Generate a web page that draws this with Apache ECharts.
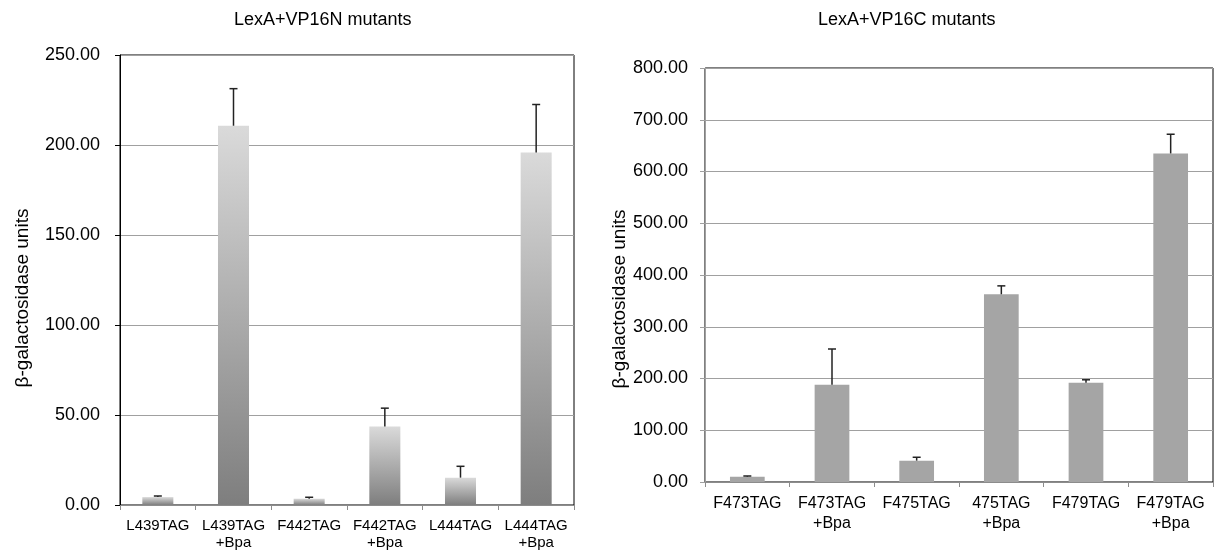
<!DOCTYPE html>
<html>
<head>
<meta charset="utf-8">
<script src="https://cdn.jsdelivr.net/npm/echarts@6/dist/echarts.min.js"></script>
<style>
html,body{margin:0;padding:0;background:#fff;}
#chart{width:1217px;height:552px;}
</style>
</head>
<body>
<div id="chart"></div>
<script>
// ---- data ----
const leftTitle = 'LexA+VP16N mutants';
const rightTitle = 'LexA+VP16C mutants';
const yName = 'β-galactosidase units';
const leftCategories = ['L439TAG', 'L439TAG\n+Bpa', 'F442TAG', 'F442TAG\n+Bpa', 'L444TAG', 'L444TAG\n+Bpa'];
const leftValues = [4.4, 210.7, 3.5, 43.6, 15.2, 195.8];
const leftErrTop = [5.0, 231.3, 4.3, 53.8, 21.5, 222.5];
const rightCategories = ['F473TAG', 'F473TAG\n+Bpa', 'F475TAG', '475TAG\n+Bpa', 'F479TAG', 'F479TAG\n+Bpa'];
const rightValues = [10.3, 188.0, 41.3, 362.8, 191.7, 634.9];
const rightErrTop = [11.6, 257.0, 47.8, 379.0, 197.5, 672.0];
const leftAxis = {min: 0, max: 250, interval: 50};
const rightAxis = {min: 0, max: 800, interval: 100};

const FONT = '"Liberation Sans", Arial, Helvetica, sans-serif';

function errData(vals, tops) {
  return vals.map((v, i) => [i, v, tops[i]]);
}
function errRender(params, api) {
  const i = api.value(0);
  const p0 = api.coord([i, api.value(1)]);
  const p1 = api.coord([i, api.value(2)]);
  const half = 4;
  const style = {stroke: '#222', lineWidth: 1.5};
  return {
    type: 'group',
    children: [
      {type: 'line', shape: {x1: p0[0], y1: p0[1], x2: p1[0], y2: p1[1]}, style: style},
      {type: 'line', shape: {x1: p1[0] - half, y1: p1[1], x2: p1[0] + half, y2: p1[1]}, style: style}
    ]
  };
}

const chart = echarts.init(document.getElementById('chart'));
const gradient = new echarts.graphic.LinearGradient(0, 0, 0, 1, [
  {offset: 0, color: '#dadada'},
  {offset: 1, color: '#7e7e7e'}
]);

const xAxisCommon = {
  type: 'category',
  boundaryGap: true,
  axisTick: {show: true, alignWithLabel: false, length: 5, lineStyle: {color: '#8c8c8c'}},
  axisLine: {show: true, lineStyle: {color: '#8c8c8c', width: 1}},
  axisLabel: {color: '#000', fontSize: 16, fontFamily: FONT, margin: 12, lineHeight: 20, interval: 0},
  splitLine: {show: false}
};

chart.setOption({
  animation: false,
  backgroundColor: '#fff',
  title: [
    {text: leftTitle, left: 229, top: 6, textStyle: {fontSize: 18, fontWeight: 'normal', color: '#000', fontFamily: FONT}},
    {text: rightTitle, left: 813, top: 6, textStyle: {fontSize: 18, fontWeight: 'normal', color: '#000', fontFamily: FONT}}
  ],
  grid: [
    {left: 120, right: 643, top: 55, bottom: 47, show: true, borderColor: '#000', borderWidth: 1, backgroundColor: 'transparent'},
    {left: 705, right: 4, top: 68, bottom: 70, show: true, borderColor: '#000', borderWidth: 1, backgroundColor: 'transparent'}
  ],
  xAxis: [
    Object.assign({}, xAxisCommon, {gridIndex: 0, data: leftCategories,
      axisLabel: Object.assign({}, xAxisCommon.axisLabel, {fontSize: 15, lineHeight: 17})}),
    Object.assign({}, xAxisCommon, {gridIndex: 1, data: rightCategories})
  ],
  yAxis: [
    {
      type: 'value', gridIndex: 0, min: leftAxis.min, max: leftAxis.max, interval: leftAxis.interval,
      name: yName, nameLocation: 'middle', nameRotate: 90, nameGap: 88,
      nameTextStyle: {fontSize: 19, color: '#000', fontFamily: FONT, padding: [0, 36, 0, 0]},
      axisLine: {show: true, lineStyle: {color: '#000', width: 1}},
      axisTick: {show: true, length: 5, lineStyle: {color: '#000'}},
      axisLabel: {color: '#000', fontSize: 18, fontFamily: FONT, margin: 20, formatter: v => v.toFixed(2)},
      splitLine: {show: true, lineStyle: {color: '#a0a0a0', width: 1}}
    },
    {
      type: 'value', gridIndex: 1, min: rightAxis.min, max: rightAxis.max, interval: rightAxis.interval,
      name: yName, nameLocation: 'middle', nameRotate: 90, nameGap: 76,
      nameTextStyle: {fontSize: 19, color: '#000', fontFamily: FONT, padding: [0, 48, 0, 0]},
      axisLine: {show: true, lineStyle: {color: '#a0a0a0', width: 1}},
      axisTick: {show: true, length: 5, lineStyle: {color: '#a0a0a0'}},
      axisLabel: {color: '#000', fontSize: 18, fontFamily: FONT, margin: 17, formatter: v => v.toFixed(2)},
      splitLine: {show: true, lineStyle: {color: '#a0a0a0', width: 1}}
    }
  ],
  series: [
    {type: 'bar', xAxisIndex: 0, yAxisIndex: 0, data: leftValues, barWidth: '41%',
      itemStyle: {color: gradient}, z: 2},
    {type: 'custom', xAxisIndex: 0, yAxisIndex: 0, data: errData(leftValues, leftErrTop),
      renderItem: errRender, encode: {x: 0, y: [1, 2]}, z: 3},
    {type: 'bar', xAxisIndex: 1, yAxisIndex: 1, data: rightValues, barWidth: '41%',
      itemStyle: {color: '#a5a5a5'}, z: 2},
    {type: 'custom', xAxisIndex: 1, yAxisIndex: 1, data: errData(rightValues, rightErrTop),
      renderItem: errRender, encode: {x: 0, y: [1, 2]}, z: 3}
  ]
});
</script>
</body>
</html>
